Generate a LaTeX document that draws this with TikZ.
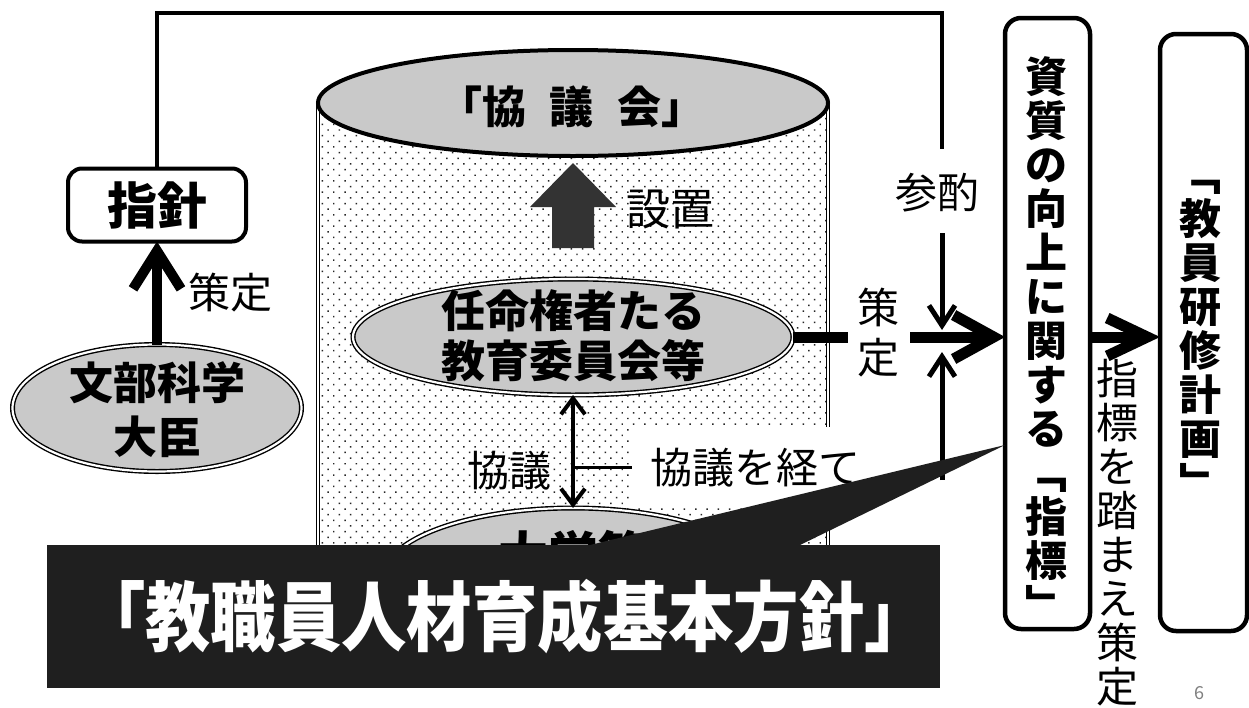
\documentclass[tikz,border=0pt]{standalone}
\usepackage{fontspec}
\usepackage{graphicx}
\setmainfont{Noto Sans CJK JP}
\usetikzlibrary{arrows.meta,patterns.meta,shapes.geometric}
\begin{document}
\begin{tikzpicture}[x=1pt,y=-1pt,
  every node/.style={inner sep=0pt,outer sep=0pt},
  reg/.style={font=\fontsize{42}{44}\selectfont},
  ovalnode/.style={ellipse, fill=black!21, draw=black, double=white, double distance=2.2pt, line width=1.4pt},
  cylside/.style={draw=black, double=white, double distance=2pt, line width=1.3pt},
  rbox/.style={draw=black, fill=white, line width=4.5pt, rounded corners=16pt},
  bigarr/.style={line width=11pt, -{Straight Barb[length=40pt, width=44pt]}},
  bigarrb/.style={line width=11pt, -{Straight Barb[length=40pt, width=38pt]}},
  bigarrc/.style={line width=10pt, -{Straight Barb[length=38pt, width=48pt]}},
  thinarr/.style={line width=5pt, -{Straight Barb[length=20pt, width=26pt]}},
  topline/.style={line width=4.5pt},
  darkfill/.style={fill=black!88},
]
\useasboundingbox (0,0) rectangle (1249,707);
\fill[white] (0,0) rectangle (1249,707);

% ---- cylinder ----
\fill[white] (318,103) rectangle (828,650);
\fill[pattern={Dots[distance=8pt,radius=1.05pt,angle=45]}, pattern color=black!85] (318,103) rectangle (828,650);
\draw[cylside] (318,103) -- (318,650);
\draw[cylside] (828,103) -- (828,650);
\node[ellipse, draw=black, line width=4pt, fill=black!21, minimum width=510pt, minimum height=106pt] (kyogikai) at (573,103) {};
\node[font=\bfseries\fontsize{44}{44}\selectfont] (kyogikaitxt) at (572,107) {「協\hspace{24pt}議\hspace{24pt}会」};

% ---- board of education ----
\node[ovalnode, minimum width=440pt, minimum height=116pt] (ninmei) at (573,337) {};
\node[align=center, font=\bfseries\fontsize{44}{50}\selectfont] (ninmeitxt) at (573,336) {任命権者たる\\教育委員会等};

% ---- setchi arrow ----
\fill[black!80] (552,248) -- (552,207) -- (530,207) -- (573,163) -- (616,207) -- (594,207) -- (594,248) -- cycle;
\node[font=\fontsize{44}{44}\selectfont, anchor=west] (setchi) at (626,210) {設置};

% ---- kyogi label box ----
\node[reg, fill=white, anchor=west, minimum height=81pt, inner xsep=18pt] (kyogihe) at (632,467.5) {協議を経て};

% ---- university ----
\node[ovalnode, minimum width=380pt, minimum height=140pt] (daigaku) at (573,578) {};
\node[font=\bfseries\fontsize{50}{50}\selectfont] (daigakutxt) at (573,554) {大学等};

\draw[line width=4pt, {Straight Barb[length=16pt,width=24pt]}-{Straight Barb[length=16pt,width=24pt]}] (ninmei.south) -- (daigaku.north);
\node[reg] (kyogi) at (509,471) {協議};
\draw[line width=3pt] (ninmei.south |- kyogihe.west) -- (kyogihe.west);

% ---- right boxes ----
\node[rbox, minimum width=85pt, minimum height=611pt] (shitsu) at (1047.5,323.5) {};
\node[align=center, font=\bfseries\fontsize{42}{44}\selectfont] (shitsutxt) at (1046,339) {資\\質\\の\\向\\上\\に\\関\\す\\る\\﹁\\指\\標\\﹂};
\node[rbox, minimum width=87pt, minimum height=597pt] (kenshu) at (1203.5,332.5) {};
\node[align=center, font=\bfseries\fontsize{42}{44}\selectfont] (kenshutxt) at (1200,339) {﹁\\教\\員\\研\\修\\計\\画\\﹂};
\node[align=center, reg] (fumae) at (1117,533) {指\\標\\を\\踏\\ま\\え\\策\\定};

% ---- sakutei arrow (middle) ----
\coordinate (j) at (942,337);
\coordinate (g1) at (848,337);
\coordinate (g2) at (910,337);
\draw[line width=11pt] (ninmei.east) -- (g1);
\node[align=center, font=\fontsize{42}{50}\selectfont] (sakutei2) at (878,333) {策\\定};
\draw[bigarr] (g2) -- (j -| shitsu.west);
\draw[bigarrb] (j -| shitsu.east) -- (j -| kenshu.west);

% ---- left part ----
\node[rbox, line width=4pt, rounded corners=14pt, minimum width=178pt, minimum height=73pt, font=\bfseries\fontsize{50}{50}\selectfont] (shishin) at (157,205) {指針};
\node[ovalnode, minimum width=289pt, minimum height=127pt] (monbu) at (157,408) {};
\node[align=center, font=\bfseries\fontsize{44}{54}\selectfont] (monbutxt) at (157,410) {文部科学\\大臣};
\draw[bigarrc] (monbu.north) -- (shishin.south);
\node[reg, anchor=west] (sakutei1) at (188,293) {策定};

% ---- sanshaku line ----
\coordinate (c0) at (942,13);
\coordinate (c1) at (942,149);
\coordinate (s1) at (942,233);
\coordinate (jt) at (942,330);
\coordinate (jb) at (942,352);
\coordinate (s2) at (942,480);
\draw[topline] (shishin.north) |- (c0) -- (c1);
\node[reg] (sanshaku) at (937,193) {参酌};
\draw[thinarr] (s1) -- (jt);
\draw[thinarr] (s2) -- (jb);

% ---- wedge and banner ----
\coordinate (wtip) at (1005,445);
\fill[darkfill] (590,545) -- (wtip) -- (800,545) -- cycle;
\node[darkfill, minimum width=893pt, minimum height=143pt] (banner) at (493.5,616.5) {};
\node[text=white, font=\bfseries\fontsize{76}{76}\selectfont] (bannertxt) at (505,617) {\scalebox{0.86}[1]{「教職員人材育成基本方針」}};

\node[text=black!50, font=\fontsize{18}{18}\selectfont] (pg) at (1199,693) {6};
\end{tikzpicture}
\end{document}
